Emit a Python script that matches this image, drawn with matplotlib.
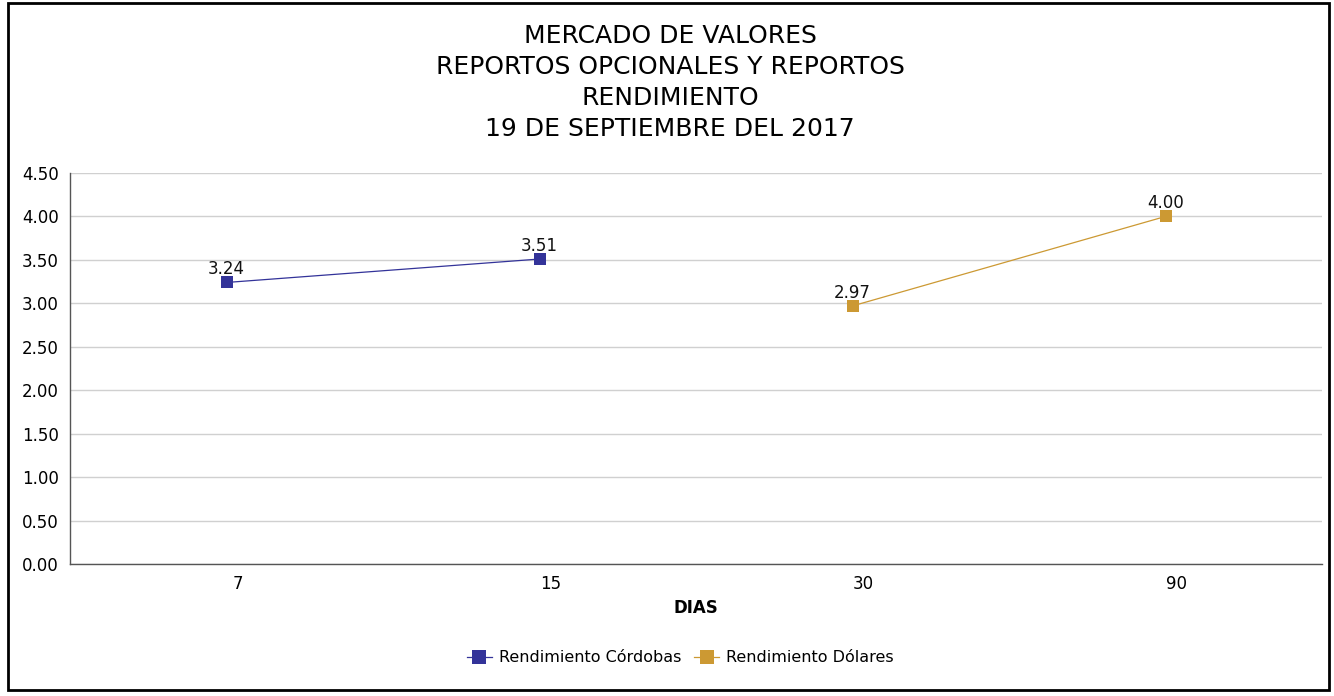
import matplotlib
matplotlib.use("Agg")
import matplotlib.pyplot as plt
from matplotlib.patches import Rectangle
import numpy as np

plt.rcParams["font.family"] = ["DejaVu Sans"]

dias = ["7", "15", "30", "90"]
cordobas = [3.24, 3.51, None, None]
dolares = [None, None, 2.97, 4.00]
yticks = [0.0, 0.5, 1.0, 1.5, 2.0, 2.5, 3.0, 3.5, 4.0, 4.5]

color_cor = "#333399"
color_dol = "#CC9933"

fig = plt.figure(figsize=(13.34, 6.96), dpi=100)
ax = fig.add_axes([70 / 1334, 1 - 564 / 696, (1322 - 70) / 1334, (564 - 173) / 696])

x = np.arange(len(dias))


def plot_series(vals, color, label):
    xs = [xi for xi, v in zip(x, vals) if v is not None]
    ys = [v for v in vals if v is not None]
    ax.plot(xs, ys, color=color, linewidth=0.9, marker="s", markersize=8.5,
            markeredgewidth=0, label=label, zorder=3)
    for xi, yi in zip(xs, ys):
        ax.annotate(f"{yi:.2f}", (xi, yi), xytext=(0, 3), textcoords="offset points",
                    ha="center", va="bottom", fontsize=12, color="#111111", zorder=4)


plot_series(cordobas, color_cor, "Rendimiento Córdobas")
plot_series(dolares, color_dol, "Rendimiento Dólares")

ax.set_xlim(-0.5, len(dias) - 0.5)
ax.set_ylim(0, 4.5)
ax.set_yticks(yticks)
ax.set_yticklabels([f"{v:.2f}" for v in yticks], fontsize=12)
# category labels sit a little right of the marker column in the original
ax.set_xticks(x + 0.035)
ax.set_xticklabels(dias, fontsize=12)
ax.tick_params(axis="both", length=0, pad=8)
ax.grid(axis="y", color="#d0d0d0", linewidth=1)
ax.set_axisbelow(True)
for s in ["top", "right"]:
    ax.spines[s].set_visible(False)
for s in ["left", "bottom"]:
    ax.spines[s].set_color("#555555")
    ax.spines[s].set_linewidth(1)

ax.set_xlabel("DIAS", fontsize=12, fontweight="bold", labelpad=4)

fig.text(670 / 1334, 1 - 24 / 696,
         "MERCADO DE VALORES\nREPORTOS OPCIONALES Y REPORTOS\nRENDIMIENTO\n19 DE SEPTIEMBRE DEL 2017",
         ha="center", va="top", fontsize=18, linespacing=1.36)

fig.legend(loc="center", bbox_to_anchor=(680 / 1334, 1 - 658 / 696), ncol=2, frameon=False,
           fontsize=11.5, handlelength=1.6, columnspacing=0.8, handletextpad=0.4,
           markerscale=1.25)

fig.patches.append(Rectangle((0.006, 0.008), 0.99, 0.988, transform=fig.transFigure,
                             fill=False, edgecolor="black", linewidth=2))

fig.savefig("out.png", dpi=100)
